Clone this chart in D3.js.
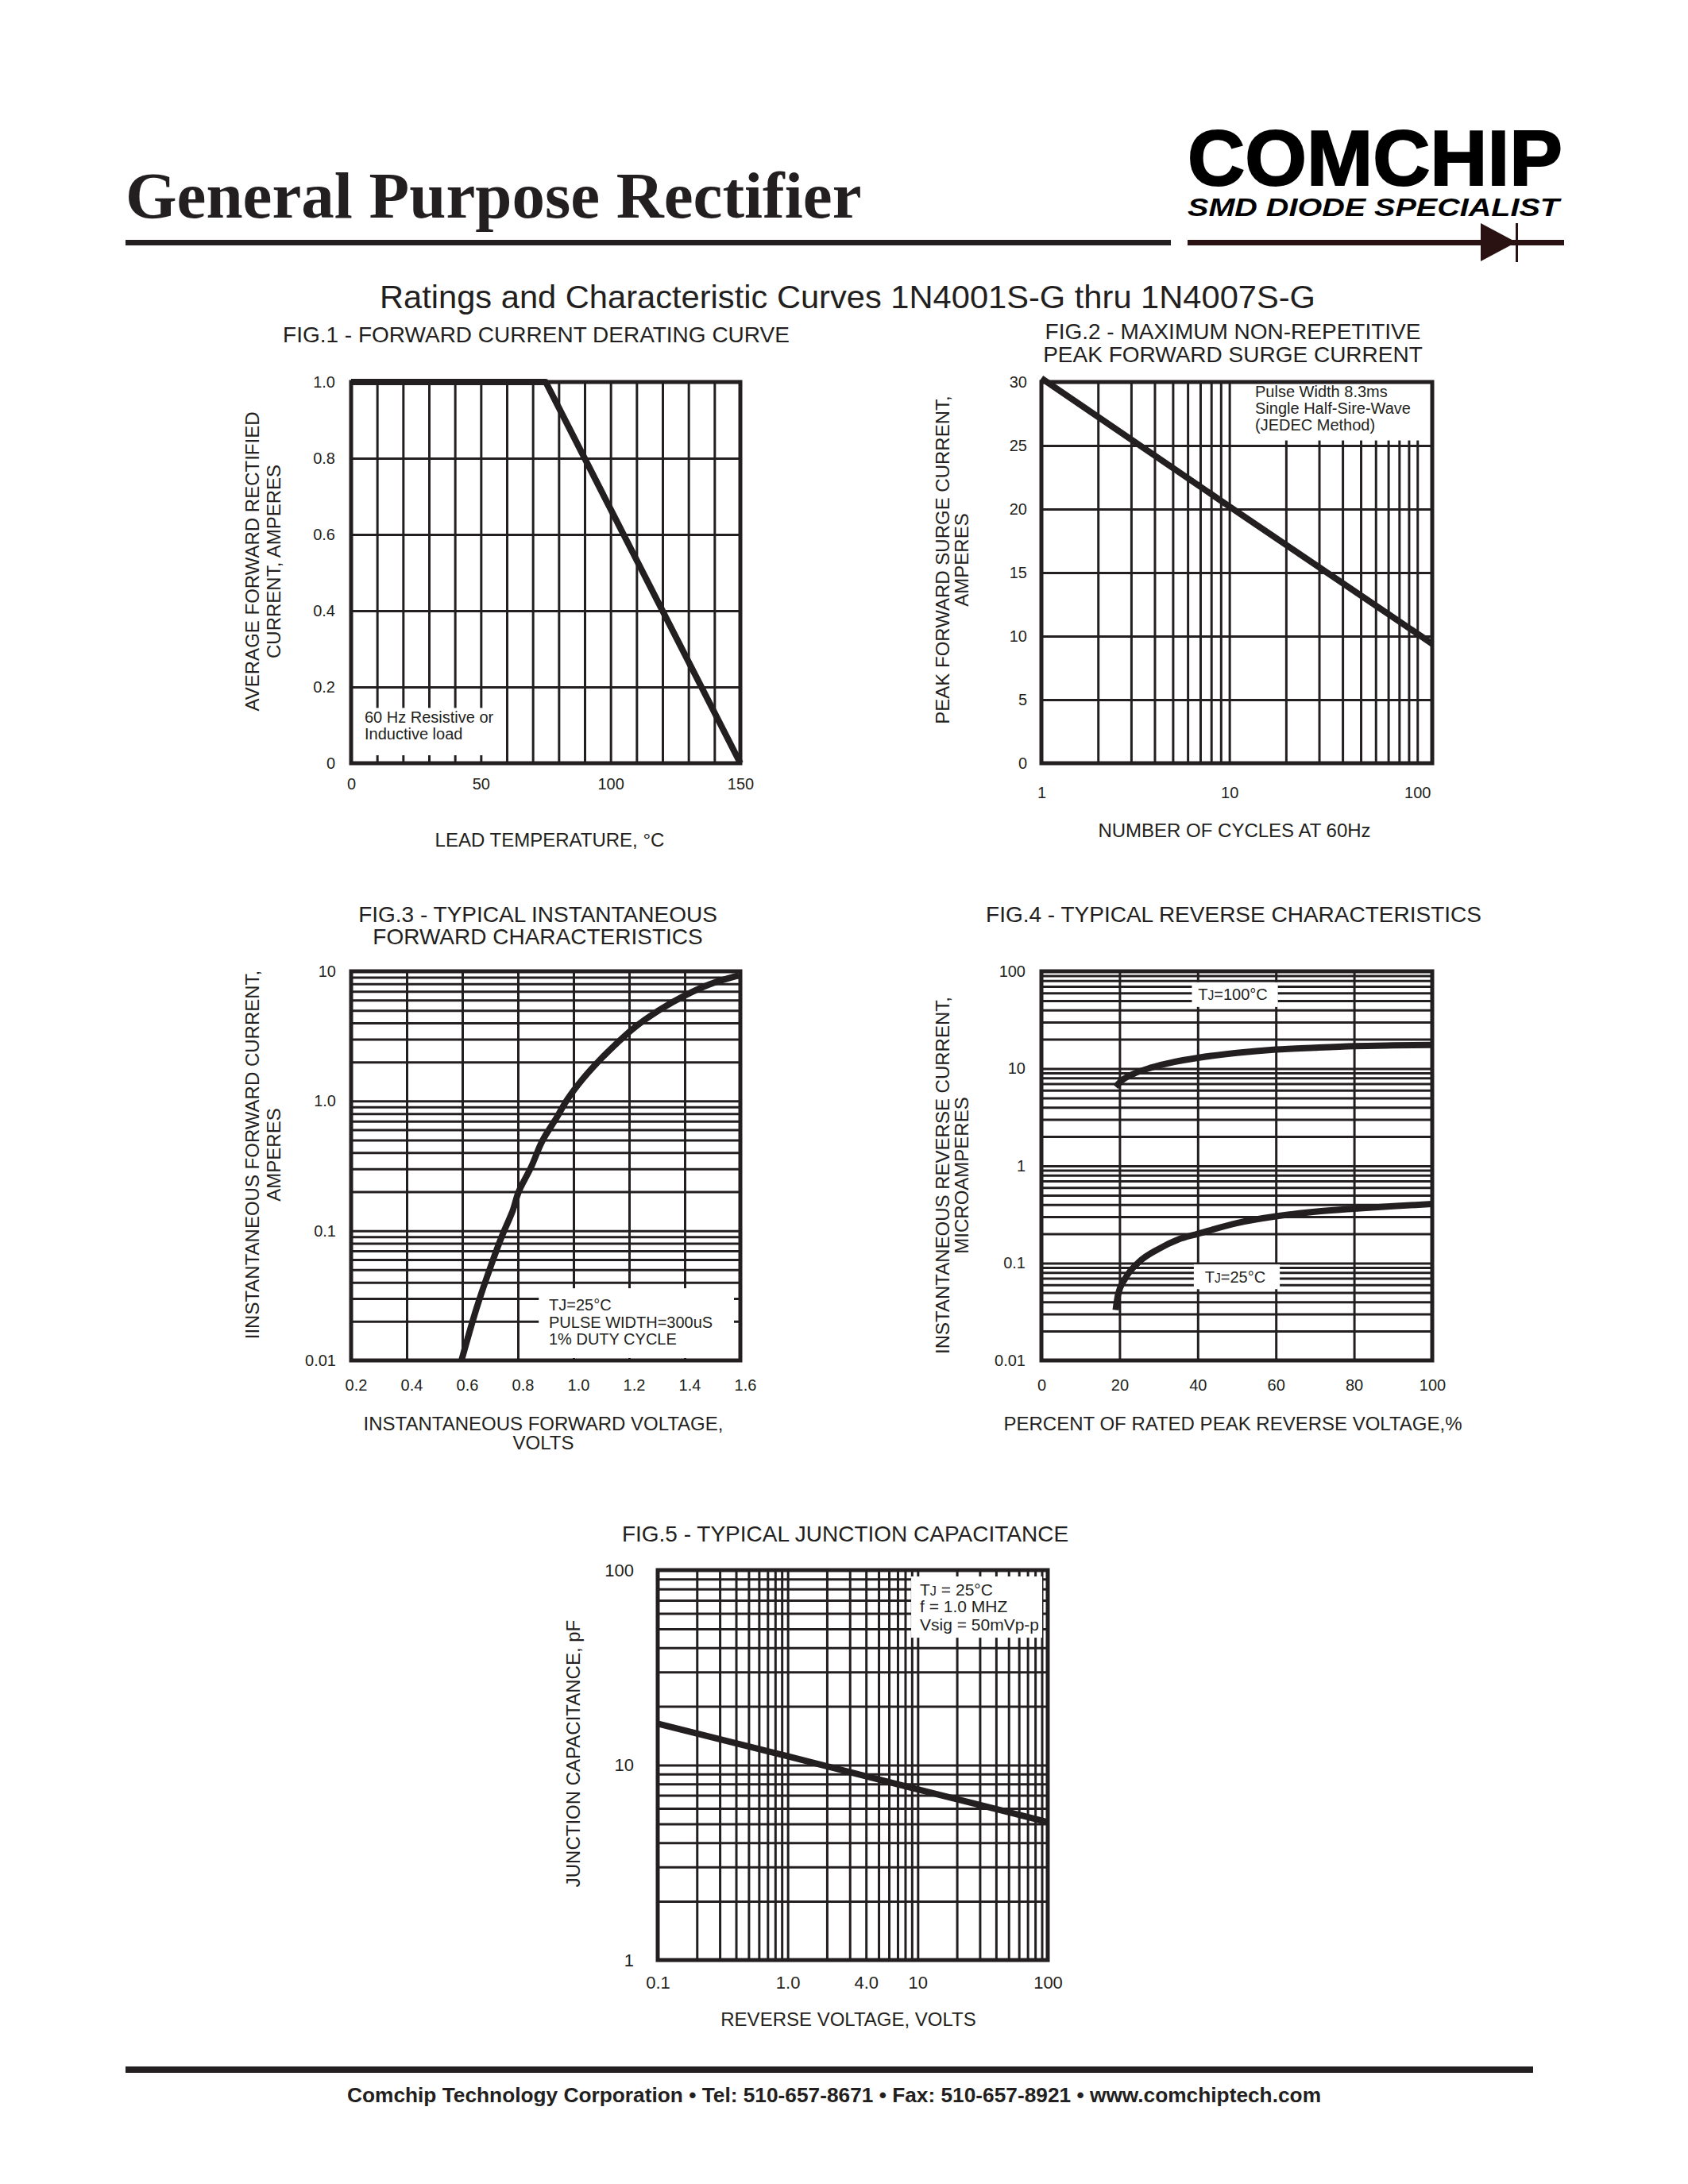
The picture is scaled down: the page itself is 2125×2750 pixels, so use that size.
<!DOCTYPE html>
<html><head><meta charset="utf-8">
<script src="https://cdn.jsdelivr.net/npm/d3@7/dist/d3.min.js"></script>
<style>
html,body{margin:0;padding:0;background:#fff;}
svg{display:block;}
text{fill:#231f20;}
</style></head><body>
<svg id="page" width="2125" height="2750" viewBox="0 0 2125 2750"></svg>
<script>
// ---------------- DATA ----------------
// Fig.1 forward current derating
const fig1Temp = [0, 75, 150];
const fig1Current = [1.0, 1.0, 0];
const fig1XTicks = [0, 50, 100, 150];
const fig1XLabels = ["0", "50", "100", "150"];
const fig1YTicks = [0, 0.2, 0.4, 0.6, 0.8, 1.0];
const fig1YLabels = ["0", "0.2", "0.4", "0.6", "0.8", "1.0"];

// Fig.2 peak forward surge current
const fig2Cycles = [1, 10, 120];
const fig2Surge = [30.3, 20.2, 9.4];
const fig2XTicks = [1, 10, 100];
const fig2XLabels = ["1", "10", "100"];
const fig2YTicks = [0, 5, 10, 15, 20, 25, 30];
const fig2YLabels = ["0", "5", "10", "15", "20", "25", "30"];

// Fig.3 forward characteristics
const fig3Voltage = [0.597, 0.651, 0.704, 0.743, 0.782, 0.802, 0.848, 0.887, 0.939, 0.978, 1.031, 1.083, 1.149, 1.214, 1.306, 1.397, 1.489, 1.595];
const fig3Current = [0.01, 0.0252, 0.0545, 0.0914, 0.144, 0.198, 0.311, 0.489, 0.743, 1.03, 1.46, 1.95, 2.70, 3.61, 4.98, 6.45, 7.93, 9.3];
const fig3XTicks = [0.2, 0.4, 0.6, 0.8, 1.0, 1.2, 1.4, 1.6];
const fig3XLabels = ["0.2", "0.4", "0.6", "0.8", "1.0", "1.2", "1.4", "1.6"];
const fig3YTicks = [0.01, 0.1, 1, 10];
const fig3YLabels = ["0.01", "0.1", "1.0", "10"];

// Fig.4 reverse characteristics
const fig4PercentHot = [19, 20.5, 23.5, 28, 34, 40, 50, 60, 70, 80, 90, 100];
const fig4CurrentHot = [6.5, 7.5, 8.8, 10.2, 11.7, 12.9, 14.5, 15.7, 16.4, 17.0, 17.3, 17.5];
const fig4PercentRoom = [19, 19.6, 21.5, 25, 30, 35, 40, 50, 60, 70, 80, 90, 100];
const fig4CurrentRoom = [0.033, 0.047, 0.07, 0.103, 0.14, 0.175, 0.2, 0.258, 0.303, 0.338, 0.363, 0.385, 0.405];
const fig4XTicks = [0, 20, 40, 60, 80, 100];
const fig4XLabels = ["0", "20", "40", "60", "80", "100"];
const fig4YTicks = [0.01, 0.1, 1, 10, 100];
const fig4YLabels = ["0.01", "0.1", "1", "10", "100"];

// Fig.5 junction capacitance
const fig5Voltage = [0.1, 1, 10, 100];
const fig5Cap = [16.3, 11.1, 7.5, 5.1];
const fig5XTicks = [0.1, 1, 4, 10, 100];
const fig5XLabels = ["0.1", "1.0", "4.0", "10", "100"];
const fig5YTicks = [1, 10, 100];
const fig5YLabels = ["1", "10", "100"];

// ---------------- DRAWING ----------------
const INK = "#231f20";
const FONT = '"Liberation Sans", Arial, Helvetica, sans-serif';
const SERIF = '"Liberation Serif", "Times New Roman", Times, serif';
const svg = d3.select("#page");
svg.append("rect").attr("width", 2125).attr("height", 2750).attr("fill", "#fff");

function txt(parent, x, y, s, size, opts = {}) {
  const t = parent.append("text").attr("x", x).attr("y", y)
    .style("font-size", size + "px").style("font-family", opts.family || FONT)
    .attr("text-anchor", opts.anchor || "start").text(s);
  if (opts.weight) t.style("font-weight", opts.weight);
  if (opts.style) t.style("font-style", opts.style);
  if (opts.len) t.attr("textLength", opts.len).attr("lengthAdjust", "spacingAndGlyphs");
  return t;
}

// ---- Header ----
txt(svg, 158, 274, "General Purpose Rectifier", 83, {weight: "bold", family: SERIF});
svg.append("rect").attr("x", 158).attr("y", 302).attr("width", 1316).attr("height", 7).attr("fill", INK);
txt(svg, 1495, 233, "COMCHIP", 98, {weight: "bold", len: 472}).style("fill", "#000").style("stroke", "#000").style("stroke-width", 2);
txt(svg, 1495, 272, "SMD DIODE SPECIALIST", 31, {weight: "bold", style: "italic", len: 468}).style("fill", "#000");
svg.append("rect").attr("x", 1495).attr("y", 302).attr("width", 474).attr("height", 7).attr("fill", "#2a1212");
svg.append("path").attr("d", "M1864,281 L1864,329 L1909,305 Z").attr("fill", "#2a1212");
svg.append("rect").attr("x", 1908).attr("y", 281).attr("width", 3).attr("height", 49).attr("fill", "#2a1212");

txt(svg, 1067, 388, "Ratings and Characteristic Curves 1N4001S-G thru 1N4007S-G", 40, {anchor: "middle", len: 1178});

// ---- Footer ----
svg.append("rect").attr("x", 158).attr("y", 2602).attr("width", 1772).attr("height", 8).attr("fill", INK);
txt(svg, 1050, 2647, "Comchip Technology Corporation \u2022 Tel: 510-657-8671 \u2022 Fax: 510-657-8921 \u2022 www.comchiptech.com", 25.5, {anchor: "middle", weight: "bold", len: 1226});

// ---- generic panel ----
function panel(c) {
  const g = svg.append("g");
  const xs = (c.xType === "log" ? d3.scaleLog() : d3.scaleLinear()).domain(c.xDomain).range([c.x0, c.x1]);
  const ys = (c.yType === "log" ? d3.scaleLog() : d3.scaleLinear()).domain(c.yDomain).range([c.y1, c.y0]);
  const W = c.x1 - c.x0, H = c.y1 - c.y0;

  // grid
  const gx = g.append("g").attr("transform", `translate(0,${c.y1})`)
    .call(d3.axisBottom(xs).tickValues(c.xGrid).tickSize(-H).tickSizeOuter(0).tickFormat(""));
  const gy = g.append("g").attr("transform", `translate(${c.x0},0)`)
    .call(d3.axisLeft(ys).tickValues(c.yGrid).tickSize(-W).tickSizeOuter(0).tickFormat(""));
  [gx, gy].forEach(a => {
    a.select(".domain").remove();
    a.selectAll(".tick line").attr("stroke", INK).attr("stroke-width", 3);
  });

  // white annotation boxes
  (c.boxes || []).forEach(b => {
    const p = Object.assign({t: 0, r: 0, b: 0, l: 0}, b.pad || {});
    const rx0 = Math.max(xs(b.x[0]), c.x0 + p.l);
    const rx1 = Math.min(xs(b.x[1]), c.x1 - p.r);
    const ry0 = Math.max(ys(b.y[1]), c.y0 + p.t);
    const ry1 = Math.min(ys(b.y[0]), c.y1 - p.b);
    g.append("rect").attr("x", rx0).attr("y", ry0).attr("width", rx1 - rx0).attr("height", ry1 - ry0).attr("fill", "#fff");
  });

  // frame
  g.append("rect").attr("x", c.x0).attr("y", c.y0).attr("width", W).attr("height", H)
    .attr("fill", "none").attr("stroke", INK).attr("stroke-width", 5);

  // curves
  c.series.forEach(s => {
    const line = d3.line().x(d => xs(d[0])).y(d => ys(d[1])).curve(s.curve || d3.curveLinear);
    g.append("path").datum(d3.zip(s.x, s.y)).attr("d", line)
      .attr("fill", "none").attr("stroke", INK).attr("stroke-width", 8)
      .attr("stroke-linejoin", "round").attr("stroke-linecap", "butt");
  });

  // tick labels via axes
  const fs = c.fs || 20;
  const ax = g.append("g").attr("transform", `translate(${c.xLabelDx || 0},${c.y1})`)
    .call(d3.axisBottom(xs).tickValues(c.xTicks).tickFormat((d, i) => c.xLabels[i])
      .tickSize(0).tickPadding(c.xLabelBase - c.y1 - 0.71 * fs));
  const ay = g.append("g").attr("transform", `translate(${c.x0},0)`)
    .call(d3.axisLeft(ys).tickValues(c.yTicks).tickFormat((d, i) => c.yLabels[i])
      .tickSize(0).tickPadding(c.x0 - c.yLabelRight));
  [ax, ay].forEach(a => {
    a.select(".domain").remove();
    a.attr("font-size", fs).attr("font-family", FONT).attr("color", INK);
    a.selectAll("text").style("fill", INK).style("font-size", fs + "px").style("font-family", FONT);
  });

  // titles
  c.title.forEach((t, i) => txt(g, c.titleX, c.titleY[i], t, 28, {anchor: "middle"}));
  c.xTitle.forEach((t, i) => {
    const el = txt(g, c.xTitleX, c.xTitleY[i], "", 24, {anchor: "middle"});
    if (typeof t === "string") el.text(t); else t(el);
  });
  c.yTitle.forEach((t, i) => {
    g.append("text").attr("transform", `translate(${c.yTitleX[i]},${c.yTitleCy}) rotate(-90)`)
      .attr("text-anchor", "middle").attr("dominant-baseline", "central")
      .style("font-size", "24px").style("font-family", FONT).text(t);
  });
  return {g, xs, ys};
}

function degC(el, pre) {
  el.append("tspan").text(pre);
  el.append("tspan").text("\u00B0");
  el.append("tspan").text("C");
}

// ---- FIG.1 ----
const p1 = panel({
  x0: 442, x1: 932, y0: 481, y1: 961,
  xType: "linear", xDomain: [0, 150], yType: "linear", yDomain: [0, 1.0],
  xGrid: d3.scaleLinear().domain([0, 150]).ticks(15), yGrid: d3.scaleLinear().domain([0, 1]).ticks(5),
  xTicks: fig1XTicks, xLabels: fig1XLabels, yTicks: fig1YTicks, yLabels: fig1YLabels,
  xLabelBase: 994, yLabelRight: 422, fs: 20,
  boxes: [{x: [0, 56], y: [0, 0.145], pad: {l: 3, b: 10}}],
  series: [{x: fig1Temp, y: fig1Current}],
  title: ["FIG.1 - FORWARD CURRENT DERATING CURVE"], titleX: 675, titleY: [431],
  xTitle: [el => degC(el, "LEAD TEMPERATURE, ")], xTitleX: 692, xTitleY: [1066],
  yTitle: ["AVERAGE FORWARD RECTIFIED", "CURRENT, AMPERES"], yTitleX: [317, 344], yTitleCy: 707
});
txt(p1.g, 459, 910, "60 Hz Resistive or", 20);
txt(p1.g, 459, 931, "Inductive load", 20);

// ---- FIG.2 ----
const p2 = panel({
  x0: 1311, x1: 1803, y0: 481, y1: 961,
  xType: "log", xDomain: [1, 120], yType: "linear", yDomain: [0, 30],
  xGrid: d3.scaleLog().domain([1, 120]).ticks(), yGrid: d3.scaleLinear().domain([0, 30]).ticks(6),
  xTicks: fig2XTicks, xLabels: fig2XLabels, yTicks: fig2YTicks, yLabels: fig2YLabels,
  xLabelBase: 1005, yLabelRight: 1293, fs: 20,
  boxes: [{x: [12, 120], y: [25.4, 30], pad: {t: 2, r: 2}}],
  series: [{x: fig2Cycles, y: fig2Surge}],
  title: ["FIG.2 - MAXIMUM NON-REPETITIVE", "PEAK FORWARD SURGE CURRENT"], titleX: 1552, titleY: [427, 456],
  xTitle: ["NUMBER OF CYCLES AT 60Hz"], xTitleX: 1554, xTitleY: [1054],
  yTitle: ["PEAK FORWARD SURGE CURRENT,", "AMPERES"], yTitleX: [1186, 1210], yTitleCy: 705
});
txt(p2.g, 1580, 500, "Pulse Width 8.3ms", 20);
txt(p2.g, 1580, 521, "Single Half-Sire-Wave", 20);
txt(p2.g, 1580, 542, "(JEDEC Method)", 20);

// ---- FIG.3 ----
const p3 = panel({
  x0: 442, x1: 932, y0: 1223, y1: 1713,
  xType: "linear", xDomain: [0.2, 1.6], yType: "log", yDomain: [0.01, 10],
  xGrid: d3.scaleLinear().domain([0.2, 1.6]).ticks(7), yGrid: d3.scaleLog().domain([0.01, 10]).ticks(),
  xTicks: fig3XTicks, xLabels: fig3XLabels, yTicks: fig3YTicks, yLabels: fig3YLabels,
  xLabelBase: 1751, yLabelRight: 423, fs: 20, xLabelDx: 6,
  boxes: [{x: [0.875, 1.6], y: [0.01, 0.036], pad: {r: 8, b: 3}}],
  series: [{x: fig3Voltage, y: fig3Current, curve: d3.curveCatmullRom.alpha(0.5)}],
  title: ["FIG.3 - TYPICAL INSTANTANEOUS", "FORWARD CHARACTERISTICS"], titleX: 677, titleY: [1161, 1189],
  xTitle: ["INSTANTANEOUS FORWARD VOLTAGE,", "VOLTS"], xTitleX: 684, xTitleY: [1801, 1825],
  yTitle: ["IINSTANTANEOUS FORWARD CURRENT,", "AMPERES"], yTitleX: [317, 344], yTitleCy: 1454
});
degC(txt(p3.g, 691, 1650, "", 20), "TJ=25");
txt(p3.g, 691, 1672, "PULSE WIDTH=300uS", 20);
txt(p3.g, 691, 1693, "1% DUTY CYCLE", 20);

// ---- FIG.4 ----
const p4 = panel({
  x0: 1311, x1: 1803, y0: 1223, y1: 1713,
  xType: "linear", xDomain: [0, 100], yType: "log", yDomain: [0.01, 100],
  xGrid: d3.scaleLinear().domain([0, 100]).ticks(5), yGrid: d3.scaleLog().domain([0.01, 100]).ticks(),
  xTicks: fig4XTicks, xLabels: fig4XLabels, yTicks: fig4YTicks, yLabels: fig4YLabels,
  xLabelBase: 1751, yLabelRight: 1291, fs: 20,
  boxes: [{x: [38.5, 60.5], y: [43, 77]}, {x: [39, 61], y: [0.054, 0.097]}],
  series: [{x: fig4PercentHot, y: fig4CurrentHot, curve: d3.curveMonotoneX},
           {x: fig4PercentRoom, y: fig4CurrentRoom, curve: d3.curveMonotoneX}],
  title: ["FIG.4 - TYPICAL REVERSE CHARACTERISTICS"], titleX: 1553, titleY: [1161],
  xTitle: ["PERCENT OF RATED PEAK REVERSE VOLTAGE,%"], xTitleX: 1552, xTitleY: [1801],
  yTitle: ["INSTANTANEOUS REVERSE CURRENT,", "MICROAMPERES"], yTitleX: [1186, 1210], yTitleCy: 1480
});
function tjLabel(parent, x, y, rest, size) {
  const t = txt(parent, x, y, "", size, {anchor: "middle"});
  t.append("tspan").text("T");
  t.append("tspan").style("font-size", (size * 0.78) + "px").text("J");
  t.append("tspan").text(rest);
  t.append("tspan").text("\u00B0");
  t.append("tspan").text("C");
  return t;
}
tjLabel(p4.g, 1552, 1259, "=100", 20);
tjLabel(p4.g, 1555, 1615, "=25", 20);

// ---- FIG.5 ----
const p5 = panel({
  x0: 828, x1: 1319, y0: 1977, y1: 2468,
  xType: "log", xDomain: [0.1, 100], yType: "log", yDomain: [1, 100],
  xGrid: d3.scaleLog().domain([0.1, 100]).ticks(), yGrid: d3.scaleLog().domain([1, 100]).ticks(),
  xTicks: fig5XTicks, xLabels: fig5XLabels, yTicks: fig5YTicks, yLabels: fig5YLabels,
  xLabelBase: 2504, yLabelRight: 798, fs: 22,
  boxes: [{x: [8.9, 100], y: [45, 100], pad: {t: 8, r: 7}}],
  series: [{x: fig5Voltage, y: fig5Cap}],
  title: ["FIG.5 - TYPICAL JUNCTION CAPACITANCE"], titleX: 1064, titleY: [1941],
  xTitle: ["REVERSE VOLTAGE, VOLTS"], xTitleX: 1068, xTitleY: [2551],
  yTitle: ["JUNCTION CAPACITANCE, pF"], yTitleX: [721], yTitleCy: 2208
});
{
  const t = txt(p5.g, 1158, 2009, "", 21);
  t.append("tspan").text("T");
  t.append("tspan").style("font-size", (21 * 0.78) + "px").text("J");
  t.append("tspan").text(" = 25\u00B0C");
  txt(p5.g, 1158, 2030, "f = 1.0 MHZ", 21);
  txt(p5.g, 1158, 2053, "Vsig = 50mVp-p", 21);
}
</script>
</body></html>
